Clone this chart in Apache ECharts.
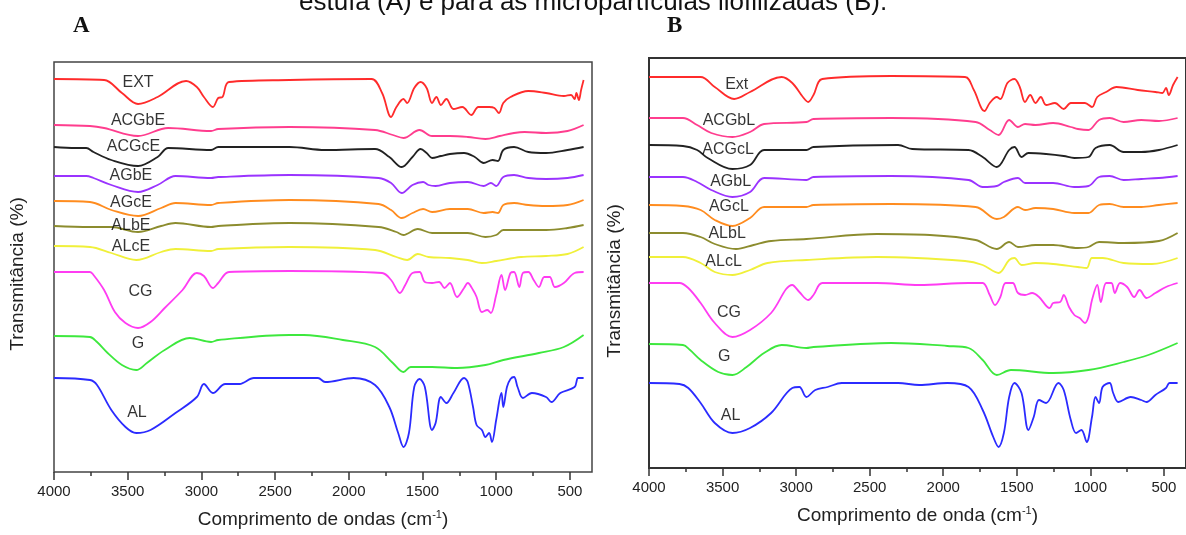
<!DOCTYPE html>
<html style="height: 100%">
<head>
<meta charset="utf-8">
<script src="https://cdn.jsdelivr.net/npm/echarts@6/dist/echarts.min.js"></script>
</head>
<body style="height: 100%; margin: 0; background: #fff;">
<div id="container" style="width: 1186px; height: 535px;"></div>
<script type="text/javascript">
// 刻度
var majorTicks = [500, 1000, 1500, 2000, 2500, 3000, 3500, 4000];
var minorTicks = [750, 1250, 1750, 2250, 2750, 3250, 3750];

// 面板 A 名称
var namesA = ['EXT', 'ACGbE', 'ACGcE', 'AGbE', 'AGcE', 'ALbE', 'ALcE', 'CG', 'G', 'AL'];
var namesB = ['Ext', 'ACGbL', 'ACGcL', 'AGbL', 'AGcL', 'ALbL', 'ALcL', 'CG', 'G', 'AL'];
var colors = ['#ff2b2b', '#ff3d8e', '#222222', '#9a33ff', '#ff8c1f', '#8c8c2e', '#f0f03a', '#ff3cf2', '#3de83d', '#2b2bff'];

// 面板 A 光谱 [波数, 透过率(任意单位)]
var A_EXT = [[4000,393],[3660,392],[3539,379],[3430,368],[3297,375],[3104,391],[3031,385],[2983,375],[2922,365],[2886,374],[2857,375],[2813,390],[2402,392],[1846,393],[1774,379],[1713,355],[1677,365],[1629,373],[1604,369],[1556,384],[1513,390],[1472,384],[1435,369],[1406,375],[1375,367],[1338,373],[1290,363],[1230,365],[1169,357],[1121,365],[1048,365],[1012,364],[981,359],[952,369],[903,375],[782,381],[662,379],[541,376],[492,377],[468,373],[456,379],[439,372],[424,382],[407,392]];
var A_ACGbE = [[4000,347],[3756,346],[3660,344],[3430,336],[3225,344],[2934,341],[2886,343],[2402,345],[1822,342],[1701,337],[1629,334],[1520,342],[1435,336],[1314,336],[1193,335],[1073,333],[976,336],[879,339],[807,340],[662,339],[516,341],[407,347]];
var A_ACGcE = [[4000,325],[3853,324],[3781,324],[3732,320],[3611,312],[3430,306],[3297,315],[3225,324],[2934,322],[2886,325],[2402,325],[2161,322],[1822,323],[1725,315],[1641,305],[1568,315],[1513,323],[1472,319],[1435,314],[1375,316],[1314,318],[1218,319],[1145,315],[1085,309],[1024,312],[988,311],[952,322],[879,325],[782,320],[662,319],[516,322],[407,325]];
var A_AGbE = [[4000,296],[3781,296],[3732,294],[3611,287],[3430,280],[3297,287],[3176,296],[2934,294],[2886,295],[2402,297],[1798,294],[1713,289],[1641,279],[1568,287],[1496,290],[1459,287],[1411,286],[1314,289],[1193,290],[1085,286],[1036,289],[1000,286],[952,295],[879,297],[782,294],[662,293],[516,294],[407,297]];
var A_AGcE = [[4000,271],[3756,270],[3611,262],[3430,256],[3273,264],[3176,269],[2934,267],[2886,269],[2402,272],[1798,268],[1713,262],[1641,254],[1568,259],[1496,263],[1435,260],[1314,263],[1193,263],[1085,259],[1024,260],[988,259],[952,267],[879,269],[782,267],[662,266],[516,267],[407,272]];
var A_ALbE = [[4000,246],[3756,245],[3611,245],[3430,240],[3273,246],[3176,249],[2934,245],[2886,246],[2402,249],[1798,245],[1677,240],[1629,237],[1532,243],[1435,239],[1314,239],[1193,239],[1073,235],[1000,237],[952,242],[831,242],[662,242],[516,244],[407,247]];
var A_ALcE = [[4000,226],[3756,225],[3611,219],[3442,212],[3273,220],[3176,223],[2934,221],[2886,223],[2402,225],[1822,222],[1677,215],[1604,212],[1532,218],[1459,215],[1314,214],[1193,212],[1097,209],[1000,211],[831,215],[662,216],[516,218],[407,225]];
var A_CG = [[4000,200],[3756,200],[3732,197],[3660,182],[3587,160],[3515,149],[3430,144],[3345,150],[3249,164],[3128,182],[3031,199],[2983,196],[2922,184],[2886,189],[2813,200],[2402,201],[1774,199],[1713,192],[1653,179],[1617,187],[1568,199],[1520,200],[1484,190],[1435,189],[1387,190],[1351,184],[1314,189],[1266,175],[1218,184],[1193,189],[1157,182],[1133,175],[1097,160],[1060,162],[1036,159],[1000,177],[964,197],[940,182],[903,199],[879,200],[843,185],[819,199],[782,200],[746,192],[710,185],[674,195],[637,195],[601,185],[541,189],[468,199],[407,200]];
var A_G = [[4000,136],[3756,135],[3708,130],[3636,119],[3539,107],[3442,102],[3370,109],[3249,122],[3079,134],[2934,130],[2886,132],[2402,137],[2306,137],[2040,132],[1822,125],[1701,109],[1629,100],[1580,105],[1435,105],[1266,104],[1073,107],[952,112],[710,119],[541,125],[407,137]];
var A_AL = [[4000,94],[3756,92],[3708,87],[3611,62],[3515,45],[3442,39],[3345,42],[3176,59],[3031,75],[2983,88],[2922,79],[2838,88],[2741,88],[2644,94],[2209,94],[2161,90],[1967,94],[1822,87],[1725,65],[1665,39],[1629,25],[1592,39],[1556,85],[1520,93],[1484,85],[1435,42],[1411,49],[1375,75],[1338,69],[1290,79],[1218,94],[1193,90],[1157,65],[1133,47],[1097,42],[1073,35],[1048,39],[1029,30],[1000,52],[964,79],[952,65],[927,85],[903,93],[879,95],[855,85],[819,74],[758,79],[662,75],[625,70],[565,79],[468,85],[444,94],[407,94]];

// 面板 B 光谱
var B_Ext = [[4000,391],[3649,391],[3553,381],[3421,369],[3313,376],[3098,391],[3026,385],[2954,371],[2918,366],[2882,373],[2822,389],[2355,392],[1852,391],[1792,378],[1720,357],[1684,365],[1636,371],[1612,369],[1564,385],[1516,389],[1480,381],[1444,366],[1409,373],[1373,365],[1337,371],[1301,363],[1241,365],[1181,359],[1133,365],[1037,365],[989,361],[953,371],[893,376],[822,381],[678,378],[558,376],[510,375],[486,380],[467,373],[438,383],[407,391]];
var B_ACGbL = [[4000,350],[3769,350],[3673,343],[3577,335],[3433,331],[3313,336],[3218,344],[2930,346],[2882,349],[2355,350],[1780,346],[1684,338],[1624,333],[1552,348],[1492,341],[1444,344],[1373,343],[1253,345],[1133,341],[1085,339],[1013,338],[941,348],[869,350],[774,346],[654,348],[534,347],[407,350]];
var B_ACGcL = [[4000,323],[3769,322],[3673,318],[3601,310],[3433,299],[3313,303],[3218,318],[2930,318],[2882,321],[2307,323],[2211,319],[1828,318],[1732,311],[1636,301],[1552,318],[1516,321],[1468,311],[1421,315],[1301,314],[1181,312],[1109,310],[1013,311],[965,320],[869,323],[774,316],[654,316],[534,318],[407,323]];
var B_AGbL = [[4000,291],[3769,291],[3673,286],[3577,278],[3433,271],[3313,276],[3218,290],[2930,288],[2882,291],[2355,292],[1828,288],[1732,281],[1636,282],[1588,286],[1492,290],[1444,285],[1373,285],[1253,285],[1109,281],[1013,282],[941,291],[869,292],[774,288],[654,289],[534,290],[407,292]];
var B_AGcL = [[4000,263],[3769,262],[3649,258],[3553,248],[3433,242],[3313,250],[3218,261],[2930,261],[2882,263],[2355,264],[1780,261],[1636,249],[1588,251],[1492,261],[1444,258],[1373,260],[1253,259],[1109,255],[1013,255],[941,263],[869,264],[774,261],[654,261],[534,263],[407,265]];
var B_ALbL = [[4000,235],[3769,235],[3649,231],[3553,224],[3409,219],[3289,223],[3170,227],[2930,229],[2451,234],[2091,233],[1780,228],[1636,219],[1552,226],[1492,221],[1373,223],[1253,223],[1085,220],[1013,221],[941,226],[774,225],[534,227],[407,235]];
var B_ALcL = [[4000,211],[3769,211],[3649,205],[3553,196],[3433,193],[3313,198],[3194,205],[2930,208],[2451,211],[1852,207],[1732,203],[1624,195],[1552,208],[1516,210],[1468,203],[1373,205],[1253,204],[1085,201],[1025,200],[989,210],[917,210],[774,205],[582,204],[407,210]];
var B_CG = [[4000,185],[3793,185],[3733,180],[3649,165],[3553,145],[3433,131],[3313,138],[3170,155],[3026,183],[2978,176],[2918,168],[2882,173],[2822,185],[2451,185],[2163,183],[1828,185],[1732,185],[1684,173],[1648,163],[1612,171],[1576,185],[1528,185],[1492,175],[1444,173],[1396,175],[1349,171],[1277,160],[1253,165],[1205,166],[1181,173],[1145,161],[1109,153],[1073,150],[1037,145],[1013,151],[989,168],[953,183],[929,166],[893,185],[857,185],[834,175],[798,185],[750,181],[702,171],[666,178],[618,170],[558,175],[486,181],[407,185]];
var B_G = [[4000,124],[3769,123],[3721,118],[3649,108],[3529,96],[3433,93],[3337,101],[3218,115],[3098,123],[2930,120],[2882,121],[2355,125],[1972,122],[1828,120],[1732,108],[1636,93],[1540,98],[1253,95],[1013,98],[774,106],[606,113],[407,125]];
var B_AL = [[4000,85],[3793,84],[3733,80],[3649,65],[3553,45],[3433,35],[3313,40],[3170,55],[3026,80],[2978,81],[2930,71],[2870,78],[2786,81],[2690,85],[2307,85],[2163,83],[1972,85],[1828,81],[1732,58],[1660,31],[1624,21],[1588,35],[1552,71],[1516,85],[1468,75],[1421,38],[1385,51],[1349,68],[1301,65],[1217,85],[1181,78],[1133,48],[1097,35],[1061,38],[1025,26],[989,51],[965,71],[941,65],[917,81],[869,85],[845,75],[810,66],[726,71],[654,68],[618,66],[558,73],[486,80],[462,85],[407,85]];

// 曲线标签位置 [波数, 透过率]
var labelPosA = [[3430,389],[3430,351],[3461,325],[3478,296],[3478,269],[3478,246],[3478,225],[3413,180],[3430,128],[3437,59]];
var labelPosB = [[3404,383],[3457,347],[3462,318],[3445,286],[3457,261],[3469,234],[3493,206],[3457,155],[3488,111],[3445,52]];

var spectraA = [A_EXT, A_ACGbE, A_ACGcE, A_AGbE, A_AGcE, A_ALbE, A_ALcE, A_CG, A_G, A_AL];
var spectraB = [B_Ext, B_ACGbL, B_ACGcL, B_AGbL, B_AGcL, B_ALbL, B_ALcL, B_CG, B_G, B_AL];

var FONT = '"Liberation Sans", Arial, sans-serif';

function mainX(grid, title) {
    return {
        gridIndex: grid, type: 'value', inverse: true, min: 350, max: 4000,
        position: 'bottom',
        axisLine: {show: false},
        axisTick: {show: true, customValues: majorTicks, length: 8, lineStyle: {color: '#333', width: 1.5}},
        axisLabel: {
            customValues: majorTicks, fontSize: 15, color: '#222', margin: 12, fontFamily: FONT,
            formatter: function (v) { return String(v); }
        },
        splitLine: {show: false},
        name: title + ' (cm{sup|-1})',
        nameLocation: 'middle',
        nameGap: 37,
        nameTextStyle: {
            fontSize: 19, color: '#222', fontFamily: FONT,
            rich: {sup: {fontSize: 11, color: '#222', fontFamily: FONT, verticalAlign: 'top', padding: [0, 0, 10, 0]}}
        }
    };
}
function minorX(grid) {
    return {
        gridIndex: grid, type: 'value', inverse: true, min: 350, max: 4000,
        position: 'bottom',
        axisLine: {show: false},
        axisTick: {show: true, customValues: minorTicks, length: 4, lineStyle: {color: '#333', width: 1.5}},
        axisLabel: {show: false},
        splitLine: {show: false}
    };
}
// shift: 名称沿轴向下移动的像素
function yAx(grid, gap, shift) {
    return {
        gridIndex: grid, type: 'value', min: 0, max: 410,
        axisLine: {show: false}, axisTick: {show: false}, axisLabel: {show: false}, splitLine: {show: false},
        name: 'Transmitância (%)', nameLocation: 'middle', nameGap: gap,
        nameTextStyle: {fontSize: 19, color: '#222', fontFamily: FONT, padding: [0, shift * 2, 0, 0]}
    };
}

var series = [];
function addPanel(spectra, names, labelPos, xIdx, yIdx) {
    for (var i = 0; i < spectra.length; i++) {
        series.push({
            name: names[i], type: 'line', xAxisIndex: xIdx, yAxisIndex: yIdx,
            data: spectra[i], showSymbol: false, smooth: 0.35, silent: true,
            lineStyle: {color: colors[i], width: 1.8}, z: 2
        });
    }
    series.push({
        type: 'scatter', xAxisIndex: xIdx, yAxisIndex: yIdx, symbolSize: 1, silent: true,
        itemStyle: {color: 'transparent'}, z: 5,
        data: labelPos.map(function (p, i) { return [p[0], p[1], names[i]]; }),
        label: {
            show: true, position: 'inside', fontSize: 16, color: '#000', fontFamily: FONT,
            textBorderWidth: 0,
            formatter: function (p) { return p.value[2]; }
        }
    });
}
addPanel(spectraA, namesA, labelPosA, 0, 0);
addPanel(spectraB, namesB, labelPosB, 2, 1);

var myChart = echarts.init(document.getElementById('container'));
var option = {
    animation: false,
    backgroundColor: '#fff',
    grid: [
        {left: 54, top: 62, width: 538, height: 410, show: true, borderColor: '#444', borderWidth: 1.5, backgroundColor: 'transparent'},
        {left: 649, top: 58, width: 540, height: 410, show: true, borderColor: '#333', borderWidth: 2, backgroundColor: 'transparent'}
    ],
    xAxis: [
        mainX(0, 'Comprimento de ondas'),
        minorX(0),
        mainX(1, 'Comprimento de onda'),
        minorX(1)
    ],
    yAxis: [yAx(0, 27, 7), yAx(1, 25, 18)],
    graphic: [
        {type: 'text', left: 299, top: -10, style: {text: 'estufa (A) e para as micropartículas liofilizadas (B).', font: '26px "Liberation Sans"', fill: '#111'}},
        {type: 'text', left: 73, top: 15, style: {text: 'A', font: 'bold 23px "Liberation Serif"', fill: '#111'}},
        {type: 'text', left: 667, top: 15, style: {text: 'B', font: 'bold 23px "Liberation Serif"', fill: '#111'}}
    ],
    series: series
};
myChart.setOption(option);
</script>
</body>
</html>
